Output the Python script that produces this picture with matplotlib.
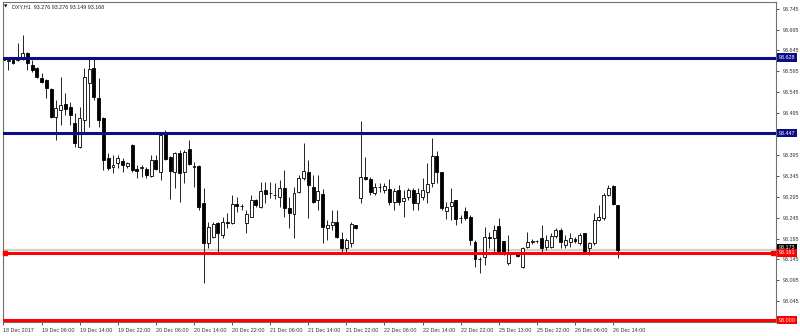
import matplotlib
matplotlib.use("Agg")
import matplotlib.pyplot as plt
import matplotlib.transforms as mtransforms

plt.rcParams['font.family'] = ['Liberation Sans', 'DejaVu Sans']

# DXY H1 candles, 18 Dec 22:00 -> 26 Dec 15:00
opens = [93.624, 93.620, 93.622, 93.622, 93.624, 93.639, 93.610, 93.603, 93.579, 93.574,
         93.553, 93.486, 93.502, 93.517, 93.510, 93.471, 93.414, 93.479, 93.567, 93.603,
         93.531, 93.483, 93.388, 93.366, 93.376, 93.380, 93.369, 93.419, 93.361, 93.364,
         93.361, 93.345, 93.383, 93.354, 93.447, 93.390, 93.354, 93.400, 93.354, 93.409,
         93.366, 93.369, 93.280, 93.184, 93.199, 93.232, 93.204, 93.235, 93.232, 93.278,
         93.273, 93.232, 93.247, 93.287, 93.270, 93.311, 93.304, 93.300, 93.294, 93.316,
         93.268, 93.254, 93.306, 93.340, 93.354, 93.318, 93.287, 93.302, 93.220, 93.227,
         93.235, 93.194, 93.172, 93.184, 93.227, 93.292, 93.342, 93.337, 93.304, 93.318,
         93.311, 93.314, 93.282, 93.311, 93.285, 93.294, 93.311, 93.280, 93.294, 93.306,
         93.328, 93.392, 93.354, 93.261, 93.273, 93.287, 93.244, 93.261, 93.247, 93.187,
         93.147, 93.151, 93.199, 93.196, 93.225, 93.189, 93.137, 93.160, 93.160, 93.127,
         93.175, 93.187, 93.189, 93.196, 93.175, 93.175, 93.201, 93.215, 93.180, 93.187,
         93.194, 93.184, 93.208, 93.172, 93.184, 93.239, 93.244, 93.299, 93.321, 93.276]
highs = [93.634, 93.629, 93.627, 93.663, 93.682, 93.641, 93.622, 93.605, 93.591, 93.576,
         93.555, 93.526, 93.581, 93.543, 93.522, 93.495, 93.510, 93.603, 93.624, 93.627,
         93.579, 93.486, 93.400, 93.395, 93.395, 93.388, 93.378, 93.421, 93.371, 93.371,
         93.366, 93.395, 93.395, 93.447, 93.455, 93.392, 93.402, 93.407, 93.407, 93.431,
         93.378, 93.370, 93.316, 93.235, 93.235, 93.235, 93.247, 93.256, 93.299, 93.294,
         93.278, 93.263, 93.299, 93.289, 93.330, 93.330, 93.330, 93.328, 93.335, 93.359,
         93.294, 93.318, 93.347, 93.424, 93.383, 93.347, 93.347, 93.314, 93.239, 93.263,
         93.263, 93.211, 93.196, 93.235, 93.228, 93.476, 93.390, 93.342, 93.328, 93.328,
         93.328, 93.337, 93.316, 93.323, 93.311, 93.316, 93.316, 93.316, 93.340, 93.376,
         93.435, 93.404, 93.355, 93.282, 93.316, 93.288, 93.251, 93.270, 93.251, 93.192,
         93.151, 93.223, 93.211, 93.227, 93.244, 93.190, 93.204, 93.163, 93.161, 93.175,
         93.211, 93.194, 93.192, 93.227, 93.204, 93.208, 93.220, 93.220, 93.204, 93.208,
         93.199, 93.208, 93.209, 93.187, 93.256, 93.275, 93.304, 93.323, 93.323, 93.276]
lows = [93.610, 93.598, 93.613, 93.620, 93.622, 93.598, 93.593, 93.579, 93.567, 93.531,
        93.483, 93.431, 93.467, 93.490, 93.467, 93.414, 93.412, 93.447, 93.462, 93.526,
        93.462, 93.359, 93.359, 93.352, 93.364, 93.354, 93.364, 93.354, 93.340, 93.342,
        93.340, 93.342, 93.359, 93.335, 93.383, 93.290, 93.316, 93.282, 93.328, 93.371,
        93.318, 93.263, 93.089, 93.172, 93.196, 93.160, 93.196, 93.220, 93.230, 93.259,
        93.263, 93.208, 93.247, 93.270, 93.268, 93.280, 93.292, 93.290, 93.270, 93.247,
        93.220, 93.196, 93.304, 93.335, 93.244, 93.280, 93.263, 93.184, 93.192, 93.215,
        93.196, 93.160, 93.160, 93.175, 93.219, 93.280, 93.335, 93.299, 93.299, 93.306,
        93.304, 93.275, 93.263, 93.275, 93.247, 93.287, 93.263, 93.263, 93.287, 93.280,
        93.318, 93.328, 93.263, 93.242, 93.239, 93.227, 93.232, 93.239, 93.180, 93.127,
        93.113, 93.132, 93.172, 93.163, 93.159, 93.156, 93.132, 93.158, 93.152, 93.125,
        93.172, 93.182, 93.184, 93.163, 93.168, 93.172, 93.196, 93.172, 93.172, 93.175,
        93.184, 93.180, 93.160, 93.156, 93.180, 93.237, 93.239, 93.297, 93.275, 93.149]
closes = [93.622, 93.622, 93.615, 93.627, 93.639, 93.615, 93.598, 93.581, 93.569, 93.555,
          93.486, 93.507, 93.514, 93.505, 93.490, 93.424, 93.483, 93.581, 93.601, 93.534,
          93.479, 93.383, 93.364, 93.371, 93.388, 93.371, 93.376, 93.359, 93.357, 93.366,
          93.347, 93.383, 93.361, 93.443, 93.385, 93.357, 93.400, 93.352, 93.402, 93.373,
          93.368, 93.270, 93.184, 93.223, 93.230, 93.208, 93.235, 93.232, 93.278, 93.273,
          93.273, 93.254, 93.287, 93.275, 93.309, 93.302, 93.304, 93.299, 93.316, 93.268,
          93.256, 93.304, 93.340, 93.357, 93.323, 93.282, 93.309, 93.223, 93.227, 93.235,
          93.199, 93.172, 93.192, 93.230, 93.220, 93.342, 93.337, 93.306, 93.318, 93.319,
          93.321, 93.282, 93.309, 93.282, 93.292, 93.311, 93.280, 93.304, 93.311, 93.325,
          93.392, 93.354, 93.268, 93.270, 93.282, 93.242, 93.245, 93.244, 93.192, 93.146,
          93.146, 93.199, 93.196, 93.215, 93.160, 93.160, 93.160, 93.161, 93.153, 93.172,
          93.187, 93.188, 93.189, 93.172, 93.192, 93.201, 93.215, 93.187, 93.192, 93.196,
          93.189, 93.204, 93.163, 93.184, 93.239, 93.247, 93.299, 93.316, 93.278, 93.168]

time_labels = ["18 Dec 2017", "19 Dec 06:00", "19 Dec 14:00", "19 Dec 22:00", "20 Dec 06:00",
               "20 Dec 14:00", "20 Dec 22:00", "21 Dec 06:00", "21 Dec 14:00", "21 Dec 22:00",
               "22 Dec 06:00", "22 Dec 14:00", "22 Dec 22:00", "25 Dec 13:00", "25 Dec 22:00",
               "26 Dec 06:00", "26 Dec 14:00"]
label_bars = [0, 8, 16, 24, 32, 40, 48, 56, 64, 72, 80, 88, 96, 104, 112, 120, 128]

price_ticks = [93.745, 93.695, 93.645, 93.595, 93.545, 93.495, 93.395, 93.345,
               93.295, 93.245, 93.195, 93.145, 93.095, 93.045]

blue_levels = [93.628, 93.447]
red_levels = [93.161, 93.000]
bid_price = 93.168

navy = '#0c0c86'
red = '#ff0000'
fs = 3.9

fig = plt.figure(figsize=(8, 3.36), dpi=100)
ax = fig.add_axes([3 / 800, 14 / 336, 773 / 800, 320 / 336])

# candles
for i in range(len(opens)):
    o, h, l, c = opens[i], highs[i], lows[i], closes[i]
    ax.vlines(i, l, h, color='black', linewidth=0.6, zorder=2)
    if c >= o:
        fill = 'white'
    else:
        fill = 'black'
    ax.bar(i, c - o, bottom=o, width=0.62, color=fill, edgecolor='black',
           linewidth=0.6, zorder=2.5)

# bid line
ax.axhline(bid_price, color='#d0d0d0', linewidth=1.6, zorder=1.5)

for lv in blue_levels:
    ax.axhline(lv, color=navy, linewidth=2.2, zorder=3)
for lv in red_levels:
    ax.axhline(lv, color=red, linewidth=2.2, zorder=3)

# selection squares on the red line
tr = mtransforms.blended_transform_factory(ax.transAxes, ax.transData)
ax.plot([0.002, 0.996], [red_levels[0], red_levels[0]], 's', color=red,
        markersize=3.2, transform=tr, zorder=4, clip_on=False)

ax.set_xlim(-0.1, 162.2)
ax.set_ylim(92.9954, 93.7608)

ax.yaxis.tick_right()
ax.set_yticks(price_ticks)
ax.set_yticklabels(['%.3f' % p for p in price_ticks])
ax.tick_params(axis='y', length=2.5, width=0.6, pad=2, labelsize=fs,
               colors='#333333')

ax.set_xticks(label_bars)
ax.set_xticklabels(time_labels)
ax.tick_params(axis='x', length=2.5, width=0.6, pad=1.5, labelsize=fs,
               colors='#333333')
for lab in ax.get_xticklabels():
    lab.set_horizontalalignment('left')

for s in ax.spines.values():
    s.set_color('#707070')
    s.set_linewidth(0.8)

# price labels on the right axis
def price_box(price, fc):
    ax.text(1.0035, price, '%.3f' % price, transform=tr, ha='left', va='center',
            fontsize=fs, color='white', zorder=5, clip_on=False,
            bbox=dict(boxstyle='square,pad=0.3', fc=fc, ec='none'))

price_box(bid_price + 0.005, 'black')
for lv in blue_levels:
    price_box(lv, navy)
for lv in red_levels:
    price_box(lv, red)

# header
fig.text(4 / 800, 1 - 7 / 336, u'\u25bc', fontsize=3.2, va='center', ha='left',
         family='DejaVu Sans')
fig.text(12 / 800, 1 - 7 / 336, 'DXY,H1  93.276 93.276 93.149 93.168', fontsize=fs,
         va='center', ha='left', color='#222222')

fig.savefig('out.png', dpi=100)
